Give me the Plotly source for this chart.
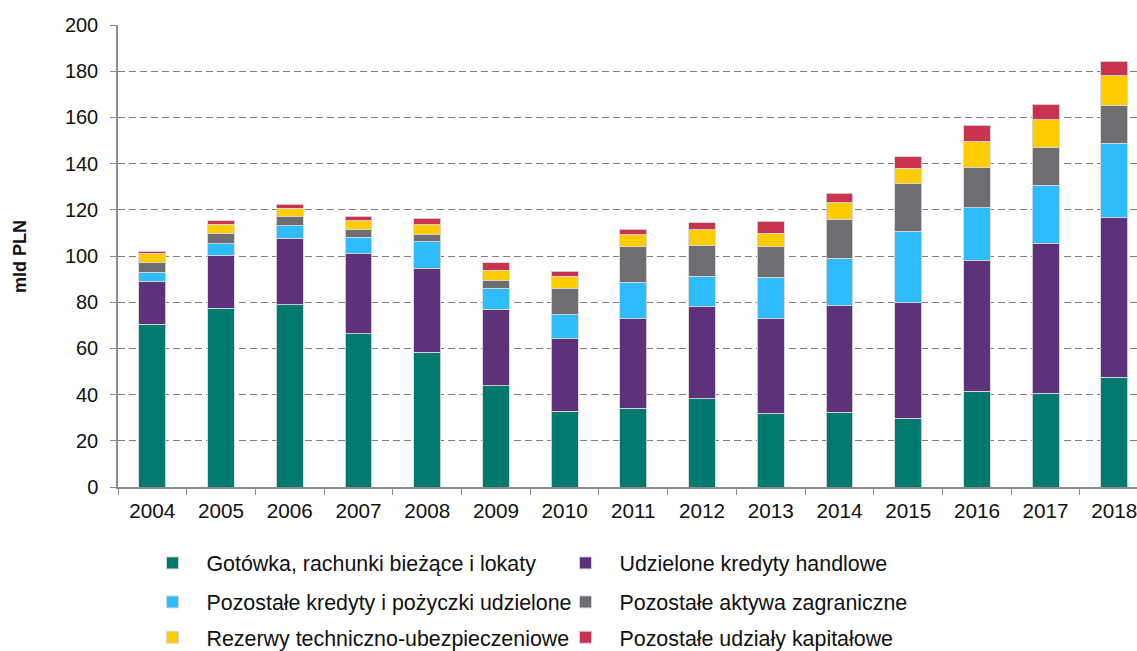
import plotly.graph_objects as go

years = ["2004", "2005", "2006", "2007", "2008", "2009", "2010", "2011",
         "2012", "2013", "2014", "2015", "2016", "2017", "2018"]

gotowka = [70.4, 77.4, 78.9, 66.4, 58.3, 43.9, 32.9, 34.2, 38.1, 31.9, 32.3, 29.7, 41.4, 40.6, 47.5]
kredyty_handlowe = [18.5, 23.0, 28.7, 34.5, 36.5, 33.0, 31.2, 38.7, 40.0, 41.0, 46.2, 50.0, 56.6, 64.9, 69.1]
pozostale_kredyty = [4.0, 4.8, 5.5, 7.3, 11.4, 9.1, 10.4, 15.7, 13.2, 17.9, 20.6, 31.1, 22.8, 25.2, 32.2]
aktywa_zagraniczne = [4.1, 4.5, 3.9, 3.2, 2.9, 3.2, 11.6, 15.3, 13.2, 13.1, 16.9, 20.4, 17.7, 16.2, 16.4]
rezerwy = [3.9, 4.0, 3.7, 3.8, 4.4, 4.7, 5.2, 5.3, 6.8, 5.9, 7.1, 6.8, 11.1, 12.1, 12.9]
udzialy = [1.1, 1.5, 1.6, 2.1, 2.8, 3.2, 2.1, 2.3, 3.0, 5.2, 4.0, 4.9, 7.0, 6.8, 6.3]

series = [
    ("Gotówka, rachunki bieżące i lokaty", gotowka, "#007A6F", "legend"),
    ("Udzielone kredyty handlowe", kredyty_handlowe, "#5E327B", "legend"),
    ("Pozostałe kredyty i pożyczki udzielone", pozostale_kredyty, "#2FBCFD", "legend2"),
    ("Pozostałe aktywa zagraniczne", aktywa_zagraniczne, "#6E6D71", "legend2"),
    ("Rezerwy techniczno-ubezpieczeniowe", rezerwy, "#FFCC00", "legend3"),
    ("Pozostałe udziały kapitałowe", udzialy, "#C9334F", "legend3"),
]

FONT = "Liberation Sans, Arial, sans-serif"

fig = go.Figure()
for name, vals, color, leg in series:
    fig.add_trace(go.Bar(
        x=years, y=vals, name=name, legend=leg,
        marker=dict(color=color, line=dict(color="rgba(215,215,215,0.9)", width=1)),
    ))


# one legend per row, so the row spacing matches the reference
def legend_row(y):
    return dict(
        orientation="h", xref="container", yref="container",
        x=0.1218, xanchor="left", y=y, yanchor="middle",
        entrywidth=340, entrywidthmode="pixels", itemwidth=58,
        traceorder="normal", bgcolor="rgba(0,0,0,0)",
        font=dict(family=FONT, size=21.4, color="#111111"),
    )


fig.update_layout(
    width=1137, height=651,
    margin=dict(l=118, r=0, t=25, b=164),
    paper_bgcolor="white", plot_bgcolor="white",
    barmode="stack", bargap=0.61,
    font=dict(family=FONT, size=20, color="#111111"),
    legend=legend_row(0.1352),
    legend2=legend_row(0.0753),
    legend3=legend_row(0.021),
    xaxis=dict(
        type="category", range=[-0.5, 14.33], automargin=False,
        showline=True, linecolor="#8C8C8C", linewidth=1.5,
        ticks="outside", tickson="boundaries", ticklen=6, tickcolor="#8C8C8C",
        tickfont=dict(size=20.7), ticklabelstandoff=4, showgrid=False,
    ),
    yaxis=dict(
        range=[0, 200], dtick=20, automargin=False,
        showline=True, linecolor="#8C8C8C", linewidth=1.5,
        ticks="outside", ticklen=6, tickcolor="#8C8C8C", ticklabelstandoff=8,
        tickfont=dict(size=20),
        showgrid=True, gridcolor="#7F7F7F", gridwidth=1.2, griddash="7px,4px",
        zeroline=False,
    ),
    annotations=[dict(
        text="<b>mld PLN</b>", textangle=-90, xref="paper", yref="paper",
        x=-0.0962, y=0.5, xanchor="center", yanchor="middle", showarrow=False,
        font=dict(family=FONT, size=18, color="#111111"),
    )],
)

# drop the default 8px body margin so the figure sits at the page corner
fig.write_html("out.html", config={"displayModeBar": False},
               post_script="document.body.style.margin='0';")
